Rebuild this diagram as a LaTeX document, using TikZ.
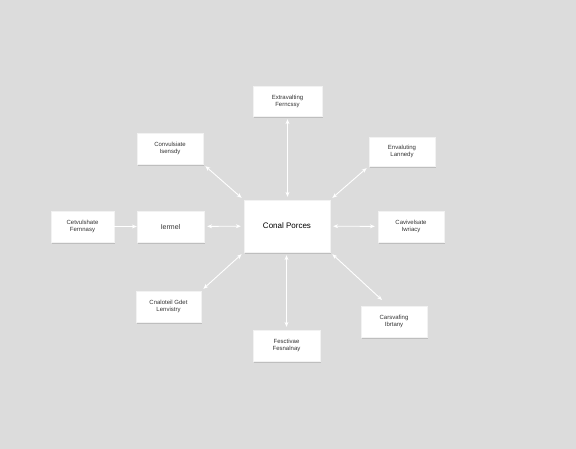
\documentclass[tikz,border=0pt]{standalone}
\usepackage{fontspec}
\setmainfont{Liberation Sans}
\usetikzlibrary{shadows,arrows.meta}
\definecolor{bg}{HTML}{DCDCDC}
\tikzset{
  box/.style={draw=white!90!gray, fill=white, line width=0.3pt, align=center, font=\fontsize{6}{7}\selectfont, text=black!80, inner sep=0pt,
    drop shadow={shadow xshift=1pt, shadow yshift=-1.5pt, opacity=0.25, fill=black!60}},
  link/.style={draw=white, line width=0.9pt, {Stealth[length=5pt,width=4pt]}-{Stealth[length=5pt,width=4pt]}, shorten <=3pt, shorten >=3pt}
}
\begin{document}
\begin{tikzpicture}[x=1pt,y=-1pt]
\useasboundingbox (0,0) rectangle (576,448);
\fill[bg] (-2,-2) rectangle (578,450);
\node[box, minimum width=69pt, minimum height=30pt] (top) at (287.5,101) {Extravalting\\Ferncssy};
\node[box, minimum width=66pt, minimum height=31pt] (ul) at (170,148.5) {Convulsiate\\Isensdy};
\node[box, minimum width=66pt, minimum height=29pt] (ur) at (402,151.5) {Envaluting\\Lannedy};
\node[box, minimum width=63pt, minimum height=31pt] (lo) at (82.5,226.5) {Cetvulshate\\Fernnasy};
\node[box, minimum width=67pt, minimum height=31pt, font=\fontsize{7}{8}\selectfont] (li) at (170.5,226.5) {Iermel};
\node[box, minimum width=86pt, minimum height=52pt, font=\fontsize{8}{9.5}\selectfont, text=black] (c) at (287,226) {Conal Porces};
\node[box, minimum width=66pt, minimum height=31pt] (r) at (411,226.5) {Cavivelsate\\Iwriacy};
\node[box, minimum width=65pt, minimum height=31pt] (ll) at (168.5,306.5) {Cnaloteil Gdet\\Lenvistry};
\node[box, minimum width=66pt, minimum height=31pt] (lr) at (394,321.5) {Carsvafing\\Ibrtany};
\node[box, minimum width=67pt, minimum height=31pt] (b) at (286.5,345.5) {Fesctivae\\Fesnalnay};
\coordinate (lrend) at (382,300);
\draw[link] (top) -- (c.north -| top);
\draw[link] (ul.south east) -- (c.north west);
\draw[link] (ur.south west) -- (c.north east);
\draw[draw=white, line width=0.9pt, -{Stealth[length=5pt,width=4pt]}] (lo) -- (li);
\draw[link] (li) -- (c);
\draw[link] (c) -- (r);
\draw[link] (c.south west) -- (ll.north east);
\draw[link, shorten >=0pt] (c.south east) -- (lrend);
\draw[link] (c.south -| b) -- (b);
\end{tikzpicture}
\end{document}
